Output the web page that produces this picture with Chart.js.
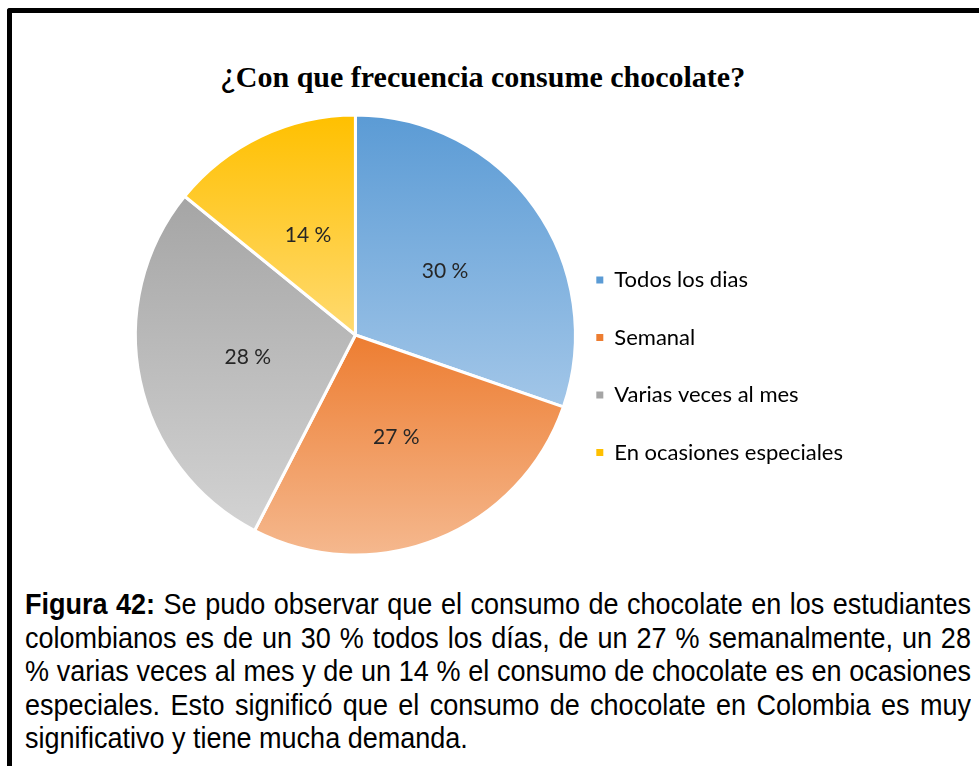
<!DOCTYPE html>
<html>
<head>
<meta charset="utf-8">
<script src="https://cdn.jsdelivr.net/npm/chart.js@4.4.1/dist/chart.umd.min.js"></script>
<style>
    html, body { margin: 0; padding: 0; background: #fff; }
    body { width: 979px; height: 766px; position: relative; overflow: hidden; }
    .marco {
        position: absolute; left: 7px; top: 8px; width: 1000px; height: 800px;
        border-top: 5px solid #000; border-left: 5px solid #000; border-top-left-radius: 3px;
    }
    #titulo {
        position: absolute; left: 0; top: 53px; width: 966px; text-align: center;
        font: bold 30px "Liberation Serif", "DejaVu Serif", serif; color: #000;
    }
    #titulo span { font: 34px Lato, "Open Sans", sans-serif; }
    #grafico { position: absolute; left: 0; top: 0; }
    .nota {
        position: absolute; left: 25px; top: 587px; width: 1051px;
        transform: scaleX(0.9); transform-origin: 0 0;
        font: 30px "Liberation Sans", Arial, sans-serif;
        line-height: 33.6px; color: #000;
    }
    .nota div { text-align: justify; text-align-last: justify; white-space: nowrap; }
    .nota div.ultima { text-align-last: left; }
</style>
</head>
<body>
<div class="marco"></div>
<div id="titulo"><span>¿</span>Con que frecuencia consume chocolate?</div>
<canvas id="grafico" width="979" height="560"></canvas>
<div class="nota">
    <div><b>Figura 42:</b> Se pudo observar que el consumo de chocolate en los estudiantes</div>
    <div>colombianos es de un 30 % todos los días, de un 27 % semanalmente, un 28</div>
    <div>% varias veces al mes y de un 14 % el consumo de chocolate es en ocasiones</div>
    <div>especiales. Esto significó que el consumo de chocolate en Colombia es muy</div>
    <div class="ultima">significativo y tiene mucha demanda.</div>
</div>

<script>
const categorias = ['Todos los dias', 'Semanal', 'Varias veces al mes', 'En ocasiones especiales'];
const porcentajes = [30, 27, 28, 14];

// tono oscuro (arriba) y claro (abajo) de cada porción
const coloresArriba = ['#5b9bd5', '#ed7d31', '#a5a5a5', '#ffc000'];
const coloresAbajo = ['#a2c6e8', '#f5b88e', '#d3d3d3', '#ffda70'];

function gradientePorcion(context) {
    const i = context.dataIndex;
    const arc = context.element;
    if (!arc || arc.outerRadius === undefined || isNaN(arc.outerRadius)) {
        return coloresArriba[i];
    }
    const { x, y, startAngle, endAngle, outerRadius } = arc;
    // limites verticales de la porción
    let ys = [y, y + outerRadius * Math.sin(startAngle), y + outerRadius * Math.sin(endAngle)];
    for (let k = -2; k <= 2; k++) {
        const abajo = Math.PI / 2 + 2 * Math.PI * k;
        const arriba = -Math.PI / 2 + 2 * Math.PI * k;
        if (abajo > startAngle && abajo < endAngle) ys.push(y + outerRadius);
        if (arriba > startAngle && arriba < endAngle) ys.push(y - outerRadius);
    }
    const minY = Math.min(...ys);
    const maxY = Math.max(...ys);
    const g = context.chart.ctx.createLinearGradient(0, minY, 0, maxY);
    g.addColorStop(0, coloresArriba[i]);
    g.addColorStop(1, coloresAbajo[i]);
    return g;
}

const etiquetasPorcentaje = {
    id: 'etiquetasPorcentaje',
    afterDatasetsDraw(chart) {
        const ctx = chart.ctx;
        const meta = chart.getDatasetMeta(0);
        ctx.save();
        ctx.font = '21px Lato, "Open Sans", sans-serif';
        ctx.fillStyle = '#262626';
        ctx.textAlign = 'center';
        ctx.textBaseline = 'middle';
        meta.data.forEach((arc, i) => {
            const pos = arc.tooltipPosition();
            ctx.fillText(porcentajes[i] + ' %', pos.x, pos.y);
        });
        ctx.restore();
    }
};

const chart = new Chart(document.getElementById('grafico'), {
    type: 'pie',
    data: {
        labels: categorias,
        datasets: [{
            data: porcentajes,
            backgroundColor: gradientePorcion,
            borderColor: '#ffffff',
            borderWidth: 3,
            radius: 220,
            clip: false
        }]
    },
    options: {
        responsive: false,
        animation: false,
        events: [],
        layout: {
            padding: { left: 150, top: 171, bottom: 61, right: 126 }
        },
        plugins: {
            title: { display: false },
            tooltip: { enabled: false },
            legend: {
                position: 'right',
                align: 'end',
                labels: {
                    boxWidth: 7,
                    boxHeight: 7,
                    padding: 35.5,
                    color: '#262626',
                    font: { family: 'Lato, "Open Sans", sans-serif', size: 22 },
                    generateLabels(c) {
                        return categorias.map((nombre, i) => ({
                            text: nombre,
                            fillStyle: coloresArriba[i],
                            strokeStyle: coloresArriba[i],
                            lineWidth: 0,
                            index: i
                        }));
                    }
                }
            }
        }
    },
    plugins: [etiquetasPorcentaje]
});
// segunda pasada para que los degradados usen la geometría final
chart.update();
</script>
</body>
</html>
